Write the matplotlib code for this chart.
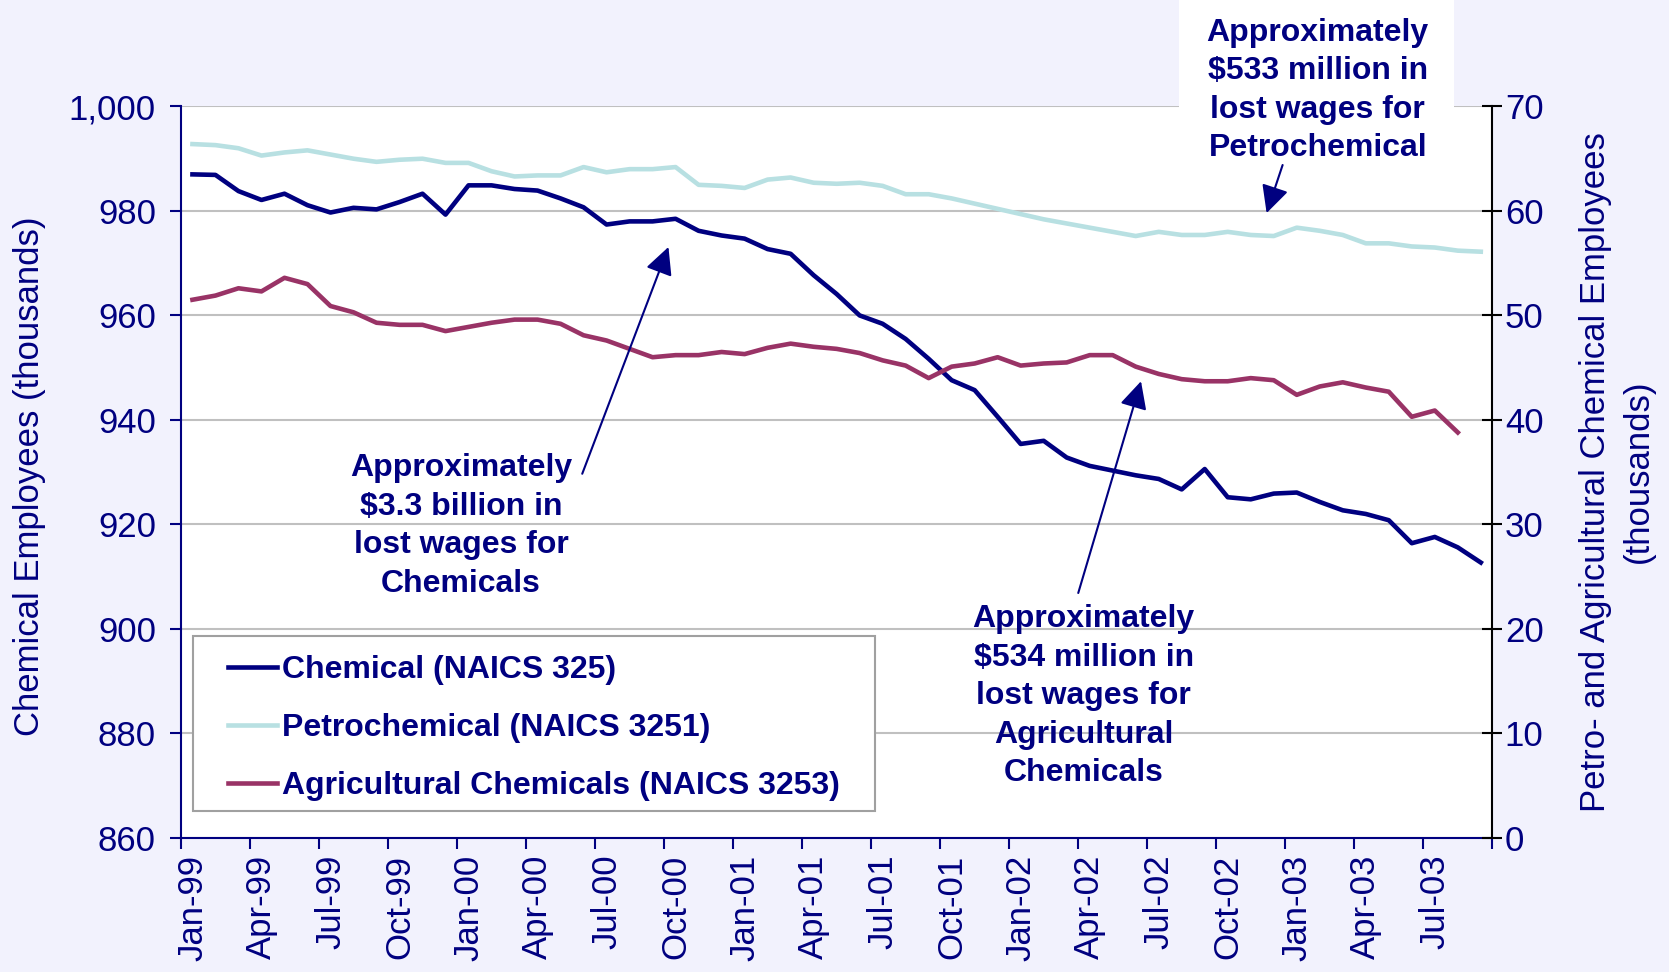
import numpy as np
import pandas as pd
import matplotlib
matplotlib.use('Agg')
import matplotlib.pyplot as plt
from matplotlib.lines import Line2D
from matplotlib.patches import Rectangle
from matplotlib.ticker import FuncFormatter

# Monthly employment, Jan-99 .. Sep-03 (thousands)
months = pd.date_range('1999-01-01', periods=57, freq='MS').strftime('%b-%y').tolist()

chemical = [987.0, 986.9, 983.8, 982.1, 983.3, 981.1, 979.7, 980.6, 980.3, 981.7,
            983.3, 979.3, 984.9, 984.9, 984.2, 983.9, 982.4, 980.7, 977.4, 978.0,
            978.0, 978.5, 976.2, 975.3, 974.7, 972.7, 971.8, 967.7, 964.1, 960.0,
            958.4, 955.5, 951.7, 947.6, 945.7, 940.6, 935.4, 936.0, 932.8, 931.2,
            930.3, 929.4, 928.7, 926.7, 930.6, 925.2, 924.8, 925.9, 926.1, 924.3,
            922.7, 922.0, 920.8, 916.4, 917.6, 915.6, 912.7]

petrochemical = [66.4, 66.3, 66.0, 65.3, 65.6, 65.8, 65.4, 65.0, 64.7, 64.9,
                 65.0, 64.6, 64.6, 63.8, 63.3, 63.4, 63.4, 64.2, 63.7, 64.0,
                 64.0, 64.2, 62.5, 62.4, 62.2, 63.0, 63.2, 62.7, 62.6, 62.7,
                 62.4, 61.6, 61.6, 61.2, 60.7, 60.2, 59.7, 59.2, 58.8, 58.4,
                 58.0, 57.6, 58.0, 57.7, 57.7, 58.0, 57.7, 57.6, 58.4, 58.1,
                 57.7, 56.9, 56.9, 56.6, 56.5, 56.2, 56.1]

# agricultural series stops one month earlier (Aug-03)
agricultural = [51.5, 51.9, 52.6, 52.3, 53.6, 53.0, 50.9, 50.3, 49.3, 49.1,
                49.1, 48.5, 48.9, 49.3, 49.6, 49.6, 49.2, 48.1, 47.6, 46.8,
                46.0, 46.2, 46.2, 46.5, 46.3, 46.9, 47.3, 47.0, 46.8, 46.4,
                45.7, 45.2, 44.0, 45.1, 45.4, 46.0, 45.2, 45.4, 45.5, 46.2,
                46.2, 45.1, 44.4, 43.9, 43.7, 43.7, 44.0, 43.8, 42.4, 43.2,
                43.6, 43.1, 42.7, 40.3, 40.9, 38.8]

labels = ['Chemical (NAICS 325)', 'Petrochemical (NAICS 3251)',
          'Agricultural Chemicals (NAICS 3253)']

NAVY = '#000080'
PETRO = '#B8E0E2'
AGRI = '#993366'
BG = '#F2F2FD'
W, H = 1568.0, 913.0   # layout measured on the reference

plt.rcParams['font.family'] = ['Liberation Sans', 'DejaVu Sans']

fig = plt.figure(figsize=(16.69, 9.72), dpi=100, facecolor=BG)
ax = fig.add_axes([170 / W, 1 - 787 / H, (1402 - 170) / W, (787 - 100) / H])
ax.set_facecolor('white')
ax2 = ax.twinx()

ax.plot(np.arange(len(chemical)), chemical, color=NAVY, lw=3.3, zorder=3)
ax2.plot(np.arange(len(petrochemical)), petrochemical, color=PETRO, lw=3.3)
ax2.plot(np.arange(len(agricultural)), agricultural, color=AGRI, lw=3.3)

ax.set_xlim(-0.5, len(months) - 0.5)
ax.set_ylim(860, 1000)
ax2.set_ylim(0, 70)
ax.set_yticks(range(860, 1001, 20))
ax.yaxis.set_major_formatter(FuncFormatter(lambda v, p: f'{v:,.0f}'))
ax2.set_yticks(range(0, 71, 10))
ax.grid(axis='y', color='#C0C0C0', lw=1.5)
ax.set_axisbelow(True)

# tick marks sit between months, labels on every third month
ax.set_xticks(np.arange(-0.5, len(months), 3))
ax.set_xticklabels([])
ax.set_xticks(np.arange(0, len(months), 3), minor=True)
ax.set_xticklabels(months[::3], minor=True, rotation=90, fontsize=25, color=NAVY)
ax.tick_params(axis='x', which='minor', length=0, pad=12)
ax.tick_params(axis='x', which='major', length=8, width=1.5, color=NAVY)
ax.tick_params(axis='y', length=8, width=1.5, color=NAVY, labelcolor=NAVY,
               labelsize=25, pad=10)
ax2.tick_params(axis='y', direction='inout', length=14, width=1.5, color='black',
                labelcolor=NAVY, labelsize=25, pad=2)

for s in ['top', 'right']:
    ax.spines[s].set_visible(False)
for s in ['left', 'bottom']:
    ax.spines[s].set_color(NAVY)
    ax.spines[s].set_linewidth(1.5)
for s in ['top', 'left', 'bottom']:
    ax2.spines[s].set_visible(False)
ax2.spines['right'].set_color('black')
ax2.spines['right'].set_linewidth(1.5)

fig.text(28 / W, 1 - 447 / H, 'Chemical Employees (thousands)', rotation=90,
         ha='center', va='center', fontsize=25, color=NAVY)
fig.text(1519 / W, 1 - 443 / H,
         'Petro- and Agricultural Chemical Employees\n(thousands)', rotation=90,
         ha='center', va='center', fontsize=25, color=NAVY, linespacing=1.4)

# legend with its own box
ax2.add_patch(Rectangle((181 / W, 1 - 762 / H), (822 - 181) / W, (762 - 597) / H,
                        transform=fig.transFigure, facecolor='white',
                        edgecolor='#A0A0A0', lw=1.5, zorder=4, clip_on=False))
handles = [Line2D([], [], color=c, lw=3.3) for c in [NAVY, PETRO, AGRI]]
leg = ax2.legend(handles, labels, loc='upper left',
                 bbox_to_anchor=(214 / W, 1 - 615 / H), bbox_transform=fig.transFigure,
                 frameon=False, prop=dict(weight='bold', size=23), labelcolor=NAVY,
                 handlelength=1.55, handletextpad=0.15, labelspacing=0.88,
                 borderpad=0, borderaxespad=0)
leg.set_zorder(5)

# annotations
fig.patches.append(Rectangle((1108 / W, 1 - 102 / H), (1366 - 1108) / W, 102 / H,
                             transform=fig.transFigure, facecolor='white',
                             edgecolor='none', zorder=1))
notes = [
    ('Approximately\n$3.3 billion in\nlost wages for\nChemicals',
     (433, 494), (547, 445), (20.69, 973.1)),
    ('Approximately\n$534 million in\nlost wages for\nAgricultural\nChemicals',
     (1018, 654), (1013, 557), (41.23, 947.4)),
    ('Approximately\n$533 million in\nlost wages for\nPetrochemical',
     (1238, 85), (1205, 155), (46.69, 979.6)),
]
for text, (tx, ty), (ax0, ay0), head in notes:
    fig.text(tx / W, 1 - ty / H, text, ha='center', va='center', fontsize=23,
             weight='bold', color=NAVY, linespacing=1.37, zorder=10)
    ax2.annotate('', xy=head, xycoords=ax.transData,
                 xytext=(ax0 / W, 1 - ay0 / H), textcoords='figure fraction',
                 arrowprops=dict(arrowstyle='-|>,head_length=0.6,head_width=0.3',
                                 color=NAVY, lw=1.5, mutation_scale=28,
                                 shrinkA=0, shrinkB=0), zorder=10)

plt.savefig('out.png', dpi=100, facecolor=BG)
